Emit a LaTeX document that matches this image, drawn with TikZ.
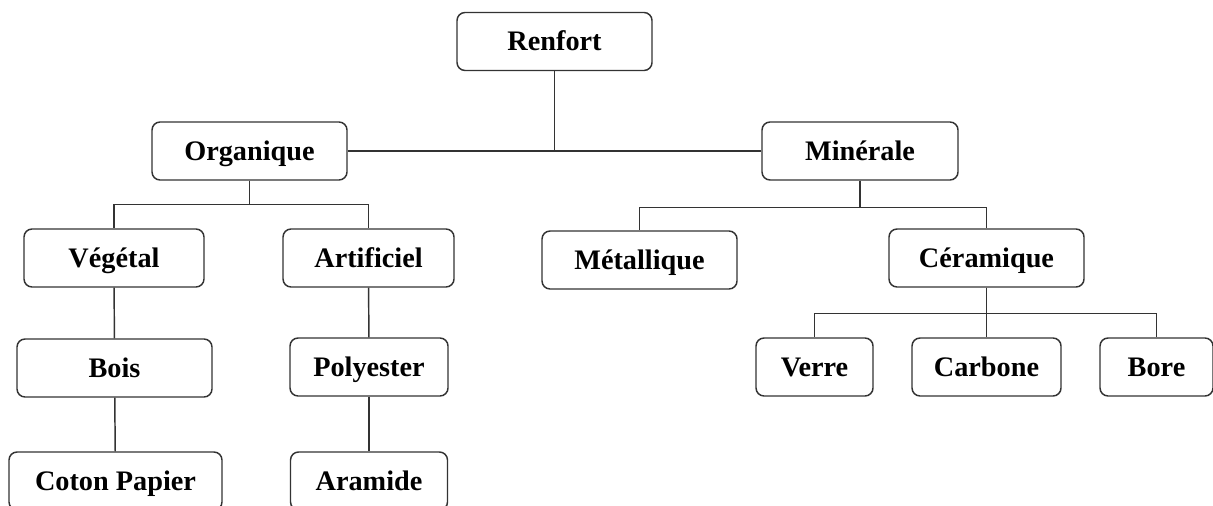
\documentclass[tikz,border=0pt]{standalone}
\usepackage{fontspec}
\setmainfont{Liberation Serif}
\begin{document}
\begin{tikzpicture}[x=0.75pt,y=-0.75pt,
  box/.style={draw=black!80, line width=1.1pt, rounded corners=6pt, fill=white,
    inner sep=0pt, minimum height={58*0.75pt}, text height=14.0pt, text depth=0pt,
    font=\fontsize{21.2}{25}\selectfont\bfseries},
  link/.style={draw=black!80, line width=1.1pt}]
\useasboundingbox (0,0) rectangle (1213,506);
\fill[white] (0,0) rectangle (1213,506);
% nodes
\node[box, minimum width={195*0.75pt}] (renfort) at (554.5,41.5) {Renfort};
\node[box, minimum width={195*0.75pt}] (organique) at (249.5,151) {Organique};
\node[box, minimum width={196*0.75pt}] (minerale) at (860,151) {Minérale};
\node[box, minimum width={180*0.75pt}] (vegetal) at (114,258) {Végétal};
\node[box, minimum width={171*0.75pt}] (artificiel) at (368.5,258) {Artificiel};
\node[box, minimum width={195*0.75pt}] (metallique) at (639.5,260) {Métallique};
\node[box, minimum width={195*0.75pt}] (ceramique) at (986.5,258) {Céramique};
\node[box, minimum width={195*0.75pt}] (bois) at (114.5,368) {Bois};
\node[box, minimum width={158*0.75pt}] (polyester) at (369,367) {Polyester};
\node[box, minimum width={117*0.75pt}] (verre) at (814.5,367) {Verre};
\node[box, minimum width={149*0.75pt}] (carbone) at (986.5,367) {Carbone};
\node[box, minimum width={113*0.75pt}] (bore) at (1156.5,367) {Bore};
\node[box, minimum width={213*0.75pt}] (coton) at (115.5,481) {Coton Papier};
\node[box, minimum width={157*0.75pt}] (aramide) at (369,481) {Aramide};
% connectors
\draw[link] (organique) -- (minerale);
\draw[link] (renfort.south) -- (renfort.south |- organique.center);
\draw[link] (organique.south) -- ++(0,24) -| (vegetal.north);
\draw[link] (organique.south) -- ++(0,24) -| (artificiel.north);
\draw[link] (minerale.south) -- ++(0,27) -| (metallique.north);
\draw[link] (minerale.south) -- ++(0,27) -| (ceramique.north);
\draw[link] (ceramique.south) -- ++(0,26) -| (verre.north);
\draw[link] (ceramique.south) -- (carbone.north);
\draw[link] (ceramique.south) -- ++(0,26) -| (bore.north);
\draw[link] (vegetal) -- (bois);
\draw[link] (bois) -- (coton);
\draw[link] (artificiel) -- (polyester);
\draw[link] (polyester) -- (aramide);
\end{tikzpicture}
\end{document}
